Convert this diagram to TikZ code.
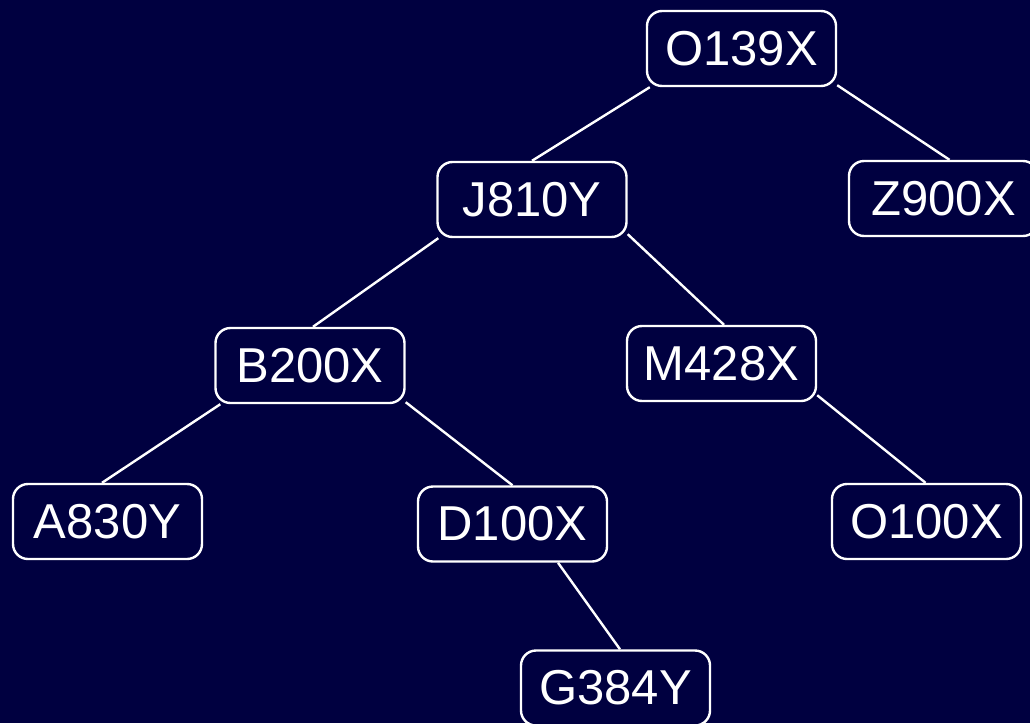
\documentclass[tikz,border=0pt]{standalone}
\usepackage{fontspec}
\setmainfont{Liberation Sans}
\definecolor{navy}{RGB}{0,0,64}
\tikzset{
  key/.style={draw=white, line width=2.4pt, rounded corners=15pt, fill=navy,
    text=white, minimum width=189pt, minimum height=75pt, inner sep=0pt,
    font=\fontsize{49}{56}\selectfont},
  link/.style={draw=white, line width=2.4pt}
}
\begin{document}
\begin{tikzpicture}[x=1pt, y=-1pt]
  \fill[navy] (0,0) rectangle (1030,723);
  \useasboundingbox (0,0) rectangle (1030,723);

  % tree nodes
  \node[key] (o139x) at (741.5,48.5) {O139X};
  \node[key] (j810y) at (532,199.5) {J810Y};
  \node[key] (z900x) at (943.5,198.5) {Z900X};
  \node[key] (b200x) at (310,365.5) {B200X};
  \node[key] (m428x) at (721.5,363.5) {M428X};
  \node[key] (a830y) at (107.5,521.5) {A830Y};
  \node[key] (d100x) at (512.5,524) {D100X};
  \node[key] (o100x) at (926.5,521.5) {O100X};
  \node[key] (g384y) at (615.5,688) {G384Y};

  % parent-child links
  \draw[link] ([xshift=4pt]o139x.south west) -- (j810y.north);
  \draw[link] ([yshift=2pt]o139x.south east) -- ([xshift=6pt]z900x.north);
  \draw[link] ([xshift=2pt]j810y.south west) -- ([xshift=3pt]b200x.north);
  \draw[link] ([yshift=4pt]j810y.south east) -- ([xshift=2.5pt]m428x.north);
  \draw[link] ([xshift=6pt]b200x.south west) -- ([xshift=-5.5pt]a830y.north);
  \draw[link] ([yshift=2pt]b200x.south east) -- (d100x.north);
  \draw[link] ([yshift=7pt]m428x.south east) -- ([xshift=-1pt]o100x.north);
  \draw[link] ([xshift=45.5pt]d100x.south) -- ([xshift=4.5pt]g384y.north);
\end{tikzpicture}
\end{document}
